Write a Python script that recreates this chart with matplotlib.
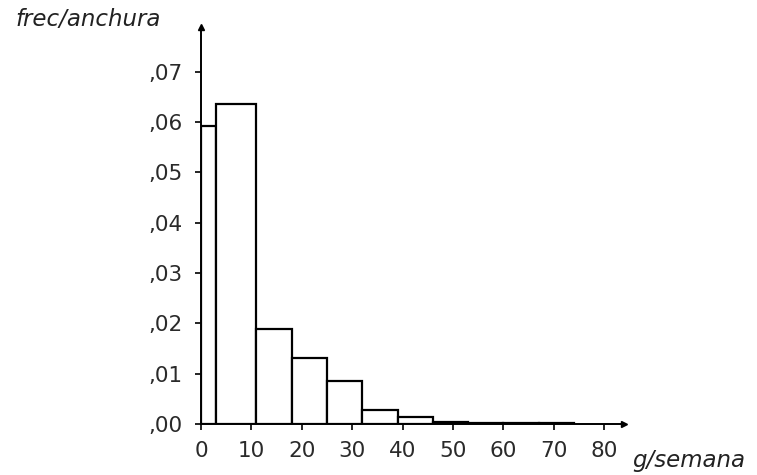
import numpy as np
import matplotlib.pyplot as plt

# histogram of weekly consumption (g/semana), density = frequency / bin width
bin_edges = [0, 3, 11, 18, 25, 32, 39, 46, 53, 60, 67, 74]
densities = [0.0593, 0.0636, 0.0189, 0.0131, 0.0085, 0.0028, 0.0013,
             0.0003, 0.0002, 0.0001, 0.0001]
x_ticks = [0, 10, 20, 30, 40, 50, 60, 70, 80]
y_ticks = [0.00, 0.01, 0.02, 0.03, 0.04, 0.05, 0.06, 0.07]
y_tick_labels = [",00", ",01", ",02", ",03", ",04", ",05", ",06", ",07"]

plt.rcParams["font.family"] = ["DejaVu Sans"]

fig = plt.figure(figsize=(7.57, 4.75), dpi=100)
ax = fig.add_axes([0.2655, 0.1074, 0.5588, 0.8358])

lefts = np.array(bin_edges[:-1])
widths = np.diff(bin_edges)
ax.bar(lefts, densities, width=widths, align="edge", facecolor="white",
       edgecolor="black", linewidth=1.6, zorder=2)

ax.set_xlim(0, 83.9)
ax.set_ylim(0, 0.0789)

for side in ("top", "right"):
    ax.spines[side].set_visible(False)
for side in ("left", "bottom"):
    ax.spines[side].set_linewidth(1.4)
    ax.spines[side].set_zorder(3)

# arrow heads at the axis ends
ax.plot(1, 0, ">k", markersize=4, transform=ax.transAxes, clip_on=False)
ax.plot(0, 1, "^k", markersize=4, transform=ax.transAxes, clip_on=False)

ax.set_xticks(x_ticks)
ax.set_xticklabels([str(v) for v in x_ticks])
ax.set_yticks(y_ticks)
ax.set_yticklabels(y_tick_labels)
ax.tick_params(axis="both", direction="out", length=4, width=1.2,
               labelsize=15.5, colors="black", labelcolor="#2a2a2a")
ax.tick_params(axis="x", pad=8)
ax.tick_params(axis="y", pad=9)

fig.text(0.02, 0.958, "frec/anchura", fontsize=16.5, style="italic",
         color="#222222", ha="left", va="center")
fig.text(0.835, 0.03, "g/semana", fontsize=16.5, style="italic",
         color="#222222", ha="left", va="center")

fig.savefig("out.png", dpi=100)
